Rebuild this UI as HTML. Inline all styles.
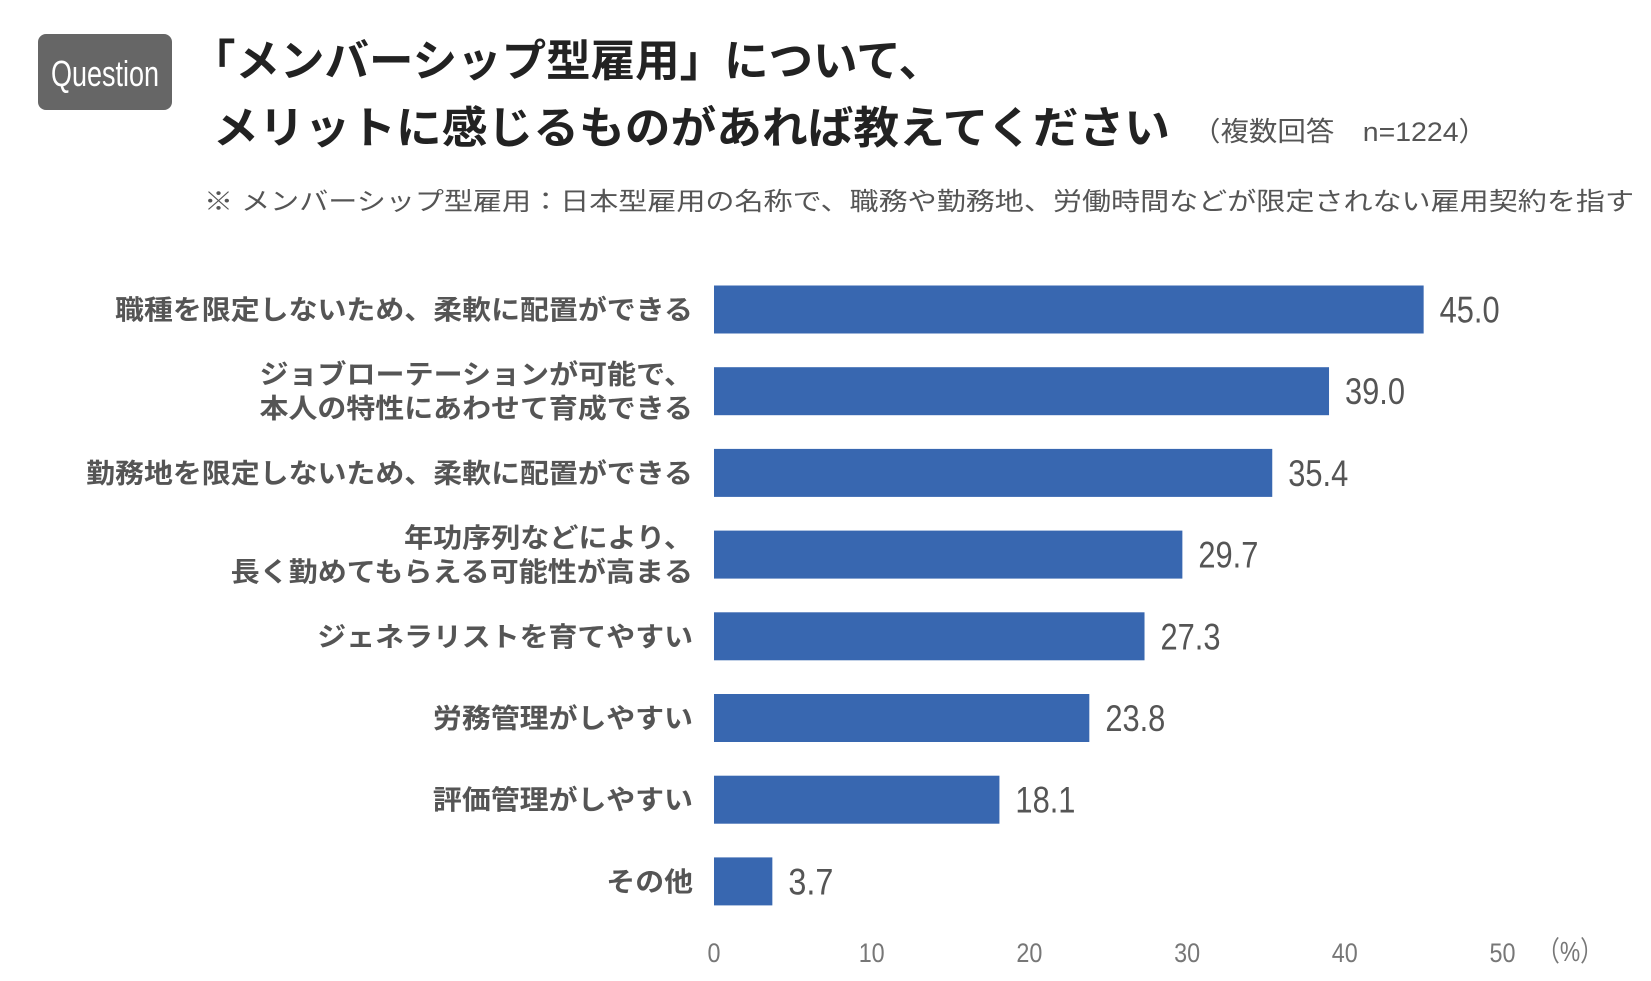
<!DOCTYPE html>
<html><head><meta charset="utf-8"><style>
html,body{margin:0;padding:0;background:#fff;}
svg{display:block;font-family:"Liberation Sans","Noto Sans CJK JP",sans-serif;}
</style></head><body>
<svg id="chart" width="1651" height="981" viewBox="0 0 1651 981" xmlns="http://www.w3.org/2000/svg">
<rect x="38" y="34" width="134" height="76" rx="8" fill="#666"/>
<text x="105" y="86" text-anchor="middle" font-size="36" fill="#fff" textLength="108" lengthAdjust="spacingAndGlyphs">Question</text>
<text x="191" y="76" font-size="44" font-weight="bold" fill="#222" textLength="752" lengthAdjust="spacingAndGlyphs">「メンバーシップ型雇用」について、</text>
<text x="213" y="143" font-size="44" font-weight="bold" fill="#222" textLength="957" lengthAdjust="spacingAndGlyphs">メリットに感じるものがあれば教えてください</text>
<text x="1192" y="141" font-size="27" fill="#555" textLength="295" lengthAdjust="spacingAndGlyphs">（複数回答　n=1224）</text>
<text x="204" y="210" font-size="25" fill="#555" textLength="1430" lengthAdjust="spacingAndGlyphs">※ メンバーシップ型雇用：日本型雇用の名称で、職務や勤務地、労働時間などが限定されない雇用契約を指す</text>
<g id="bars"></g>
<g id="axis"></g>
<text x="1537" y="961" font-size="28" fill="#777" textLength="66" lengthAdjust="spacingAndGlyphs">（%）</text>
</svg>
<script>
const categories = [
  ["職種を限定しないため、柔軟に配置ができる"],
  ["ジョブローテーションが可能で、","本人の特性にあわせて育成できる"],
  ["勤務地を限定しないため、柔軟に配置ができる"],
  ["年功序列などにより、","長く勤めてもらえる可能性が高まる"],
  ["ジェネラリストを育てやすい"],
  ["労務管理がしやすい"],
  ["評価管理がしやすい"],
  ["その他"]
];
const values = [45.0, 39.0, 35.4, 29.7, 27.3, 23.8, 18.1, 3.7];
const valueLabels = ["45.0","39.0","35.4","29.7","27.3","23.8","18.1","3.7"];
const ticks = [0, 10, 20, 30, 40, 50];

const NS = "http://www.w3.org/2000/svg";
const x0 = 714, pxPerUnit = 15.77;
const xScale = v => x0 + v * pxPerUnit;
const yCenter = i => 309.5 + i * 81.7;
const barH = 48;
const gB = document.getElementById('bars');
const gA = document.getElementById('axis');
function mk(tag, attrs, parent){ const e=document.createElementNS(NS,tag); for(const k in attrs) e.setAttribute(k,attrs[k]); parent.appendChild(e); return e; }

values.forEach((v,i)=>{
  const cy = yCenter(i);
  const r = mk('rect',{x:xScale(0),y:cy-barH/2,width:xScale(v)-xScale(0),height:barH,fill:'#3867b0'},gB);
  
  
  const s = valueLabels[i];
  const t = mk('text',{x:xScale(v)+16,y:cy+13,'font-size':37,fill:'#555',textLength:s.length*15,lengthAdjust:'spacingAndGlyphs'},gB);
  t.textContent = s;
  
  
  const lines = categories[i];
  lines.forEach((ln,j)=>{
    const ly = lines.length===1 ? cy+10 : cy - 17 + j*34 + 10;
    const lt = mk('text',{x:693,y:ly,'text-anchor':'end','font-size':27,'font-weight':'bold',fill:'#555',textLength:ln.length*28.9,lengthAdjust:'spacingAndGlyphs'},gB);
    lt.textContent = ln;
    
    
  });
});
ticks.forEach(t=>{
  const s = String(t);
  const e = mk('text',{x:xScale(t),y:962,'text-anchor':'middle','font-size':27,fill:'#777',textLength:s.length*13,lengthAdjust:'spacingAndGlyphs'},gA);
  e.textContent = s;
  
  
});
</script>
</body></html>
